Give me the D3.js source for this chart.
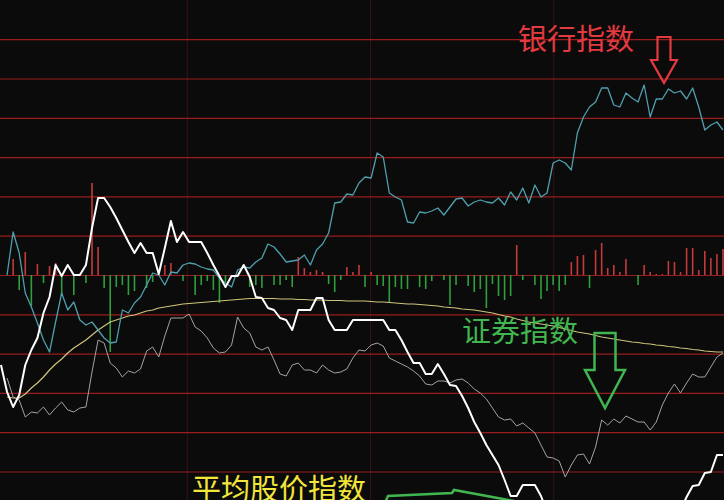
<!DOCTYPE html>
<html><head><meta charset="utf-8">
<script src="https://cdn.jsdelivr.net/npm/d3@7"></script>
<style>html,body{margin:0;padding:0;background:#0b0b0b;overflow:hidden}</style>
</head><body><svg id="c" width="724" height="500"></svg>
<script>
// trading-day index 0..119; values in chart units (0 = zero line of the volume histogram)
const dayCount = 120;
const gridLevels = [-196.5, -157.2, -117.9, -78.6, -39.3, 0, 39.3, 78.6, 117.9, 157.2, 196.5, 235.8];
const periodBreaks = [30.7, 60.9, 91.1];

const bankIndex = [null,0,43,22,-18,-32,-48,-65,-77,-47,-18,-35,-27,-45,-50,-47,-55,-63,-68,-67,
 -35,-38,-28,-22,-10,2,0,-10,3,2,10,12,11,8,6,5,-3,-8,-12,5,
 8,7,13,17,31,28,21,13,14,15,20,10,25,31,42,72,73,81,80,92,
 98,97,122,118,82,78,75,53,52,63,62,64,67,60,68,76,77,69,73,75,
 73,72,77,70,83,75,87,72,90,78,82,112,115,112,105,142,158,168,173,187,
 187,170,168,182,177,173,190,158,176,176,186,182,184,176,187,168,145,150,153,145];

const compositeIndex = [-90,-117,-132,-120,-90,-75,-63,-38,-22,10,-1,10,0,0,10,47,77,77,68,57,
 45,33,22,32,22,22,1,27,54,33,43,33,33,33,22,10,-1,-12,-1,-1,
 10,-2,-22,-23,-33,-35,-43,-45,-55,-35,-35,-35,-23,-23,-45,-55,-55,-55,-45,-45,
 -45,-45,-45,-45,-55,-55,-65,-77,-88,-88,-99,-99,-89,-99,-110,-111,-121,-133,-147,-158,
 -170,-180,-190,-205,-221,-221,-210,-210,-210,-221,-237,null,null,null,null,null,null,null,null,null,
 null,null,null,null,null,null,null,null,null,null,null,null,-235,-222,-211,-210,-198,-197,-180,-180];

const securitiesIndex = [null,-103,-122,-125,-142,-137,-138,-132,-140,-133,-127,-135,-137,-133,-132,-97,-65,-68,-88,-93,
 -102,-96,-98,-94,-76,-72,-82,-61,-43,-43,-43,-39,-52,-56,-63,-73,-78,-77,-70,-42,
 -53,-58,-72,-75,-72,-85,-99,-101,-90,-88,-95,-95,-98,-90,-95,-98,-97,-94,-83,-75,
 -76,-70,-68,-71,-83,-86,-89,-92,-96,-101,-109,-110,-106,-106,-108,-105,-104,-108,-114,-118,
 -124,-133,-142,-145,-144,-151,-148,-153,-158,-170,-182,-183,-186,-202,-190,-180,-179,-189,-172,-145,
 -150,-144,-148,-141,-144,-147,-147,-155,-147,-130,-118,-109,-118,-108,-99,-102,-102,-92,-82,-78];

const averageIndex = [null,-122,-123,-123,-119,-113,-108,-102,-95,-89,-84,-78,-73,-69,-65,-60,-55,-51,-47,-45,
 -43,-41,-40,-38,-36,-35,-33,-32,-31,-30,-29,-28.5,-28,-27.5,-27,-26.5,-26,-25.5,-25,-24.5,
 -24,-23.5,-23.5,-23.5,-23.5,-23.5,-24,-24,-24,-24.5,-24.5,-25,-25,-25,-25.5,-25.5,-25.5,-26,-26,-26,
 -26,-26.5,-27,-27,-27.5,-28,-28.5,-29,-29,-29.5,-30,-30.5,-31,-32,-32.5,-33,-34,-34.5,-35,-36,
 -37,-38,-39.5,-41,-42,-44,-45.5,-47,-48,-49,-50,-51,-52.5,-54,-55.5,-57,-58,-59,-60.5,-62,
 -63,-64,-65,-66,-67,-67.5,-68.5,-69,-70,-70.5,-71.5,-72,-73,-73.5,-74.5,-75,-76,-76.5,-77,-77];

const flowBars = [0,0,16,-15,23,-31,11,-8,9,12,-20,0,-20,0,-8,92,28,-13,-77,-12,
 -10,-20,-16,0,-13,-7,0,10,12,0,-6,0,-20,-10,-6,-15,-28,-7,0,0,
 0,-12,-10,-13,0,-10,-10,-5,-12,18,7,3,5,3,-9,-17,-5,8,3,10,
 -12,3,-10,-11,-28,-12,-14,-14,0,-12,-14,-6,0,-5,-30,-10,0,-11,-17,-14,
 -33,-9,-21,-25,-21,30,-5,0,-10,-24,-16,-10,-16,-10,13,19,20,-13,25,32,
 7,10,3,16,0,-10,10,3,1,1,14,13,3,27,27,5,24,17,21,26];

const labels = [
  {text: "银行指数", color: "#e33a3f", x: 518, y: 50},
  {text: "证券指数", color: "#41b650", x: 462, y: 342},
  {text: "平均股价指数", color: "#f2e63a", x: 192, y: 500}
];

const W = 724, H = 500;
const svg = d3.select("#c");
svg.append("rect").attr("width", W).attr("height", H).attr("fill", "#0b0b0b");

const x = d3.scaleLinear().domain([0, dayCount - 1]).range([1, 723]);
const y = d3.scaleLinear().domain([-225, 275]).range([500, 0]);

svg.append("defs").append("clipPath").attr("id", "clip")
  .append("rect").attr("width", W).attr("height", H);
const g = svg.append("g").attr("clip-path", "url(#clip)");

// vertical period separators
g.append("g").selectAll("line").data(periodBreaks).join("line")
  .attr("x1", d => x(d)).attr("x2", d => x(d)).attr("y1", 0).attr("y2", H)
  .attr("stroke", "#3a1212").attr("stroke-width", 1);

// horizontal grid via axis
const grid = g.append("g").call(d3.axisRight(y).tickValues(gridLevels).tickSize(W).tickFormat(""));
grid.select(".domain").remove();
grid.selectAll(".tick line").attr("stroke", "#9a1d1d").attr("stroke-width", 1.2);

// histogram bars
g.append("g").selectAll("rect").data(flowBars.map((v, i) => ({i, v})).filter(d => d.v !== 0)).join("rect")
  .attr("x", d => x(d.i) - 0.8).attr("width", 1.6)
  .attr("y", d => y(Math.max(0, d.v)))
  .attr("height", d => Math.abs(y(d.v) - y(0)))
  .attr("fill", d => d.v > 0 ? "#c33a3a" : "#2f9e3c");

function drawLine(data, color, width) {
  const line = d3.line().defined(d => d != null).x((d, i) => x(i)).y(d => y(d));
  g.append("path").datum(data).attr("d", line)
    .attr("fill", "none").attr("stroke", color).attr("stroke-width", width)
    .attr("stroke-linejoin", "round");
}
drawLine(averageIndex, "#cfc47c", 1.2);
drawLine(securitiesIndex, "#a3a3a3", 1);
drawLine(bankIndex, "#4f9fad", 1.3);
drawLine(compositeIndex, "#ffffff", 2);

// labels
g.append("g").selectAll("text").data(labels).join("text")
  .attr("x", d => d.x).attr("y", d => d.y).text(d => d.text)
  .attr("fill", d => d.color)
  .attr("font-family", "'Noto Sans CJK SC','Noto Sans',sans-serif")
  .attr("font-size", 29);

// arrows
const arrowPath = (cx, top, shaftHalf, headTop, headHalf, tip) =>
  `M${cx - shaftHalf},${top}H${cx + shaftHalf}V${headTop}H${cx + headHalf}L${cx},${tip}L${cx - headHalf},${headTop}H${cx - shaftHalf}Z`;
g.append("path").attr("d", arrowPath(664, 37, 6.5, 60, 13, 83))
  .attr("fill", "none").attr("stroke", "#e33a3f").attr("stroke-width", 2.2);
g.append("path").attr("d", arrowPath(605, 333, 10.5, 370, 20, 408))
  .attr("fill", "none").attr("stroke", "#41b650").attr("stroke-width", 2.5);
g.append("path").attr("d", "M385,503L388,496L452,493L454,490L514,501")
  .attr("fill", "none").attr("stroke", "#41b650").attr("stroke-width", 2.5);
</script></body></html>
